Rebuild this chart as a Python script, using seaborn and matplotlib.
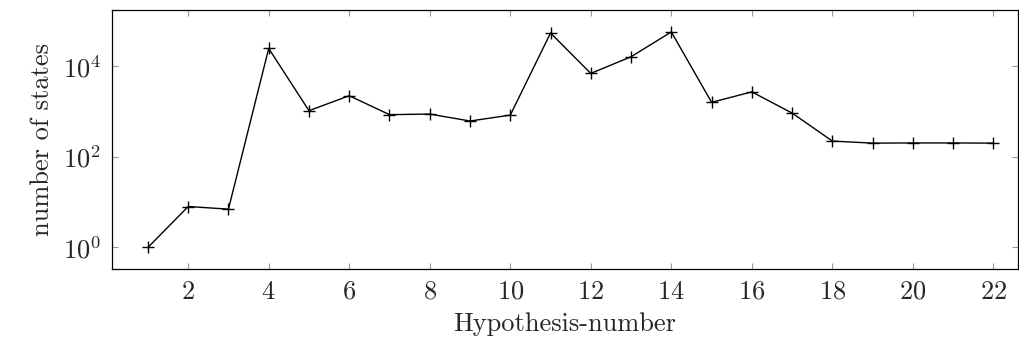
import matplotlib.pyplot as plt
import pandas as pd
import seaborn as sns

# hypothesis numbers and the number of states for each
hypothesis = list(range(1, 23))
states = [1, 8, 7, 24500, 1040, 2220, 850, 875, 615, 830, 53700,
          6900, 16100, 56700, 1590, 2700, 920, 222, 200, 202, 202, 200]

df = pd.DataFrame({"hypothesis": hypothesis, "states": states})

sns.set_style("ticks")
plt.rcParams["font.family"] = "serif"
plt.rcParams["font.serif"] = ["cmr10", "DejaVu Serif"]
plt.rcParams["mathtext.fontset"] = "cm"
plt.rcParams["axes.formatter.use_mathtext"] = True

fig = plt.figure(figsize=(10.19, 3.45), dpi=100)
ax = fig.add_axes([0.110, 0.221, 0.889, 0.749])

sns.lineplot(data=df, x="hypothesis", y="states", ax=ax, color="black",
             linewidth=1.0, marker="+", markersize=8.5, markeredgewidth=1.0,
             markeredgecolor="black")

ax.set_yscale("log")
ax.set_ylim(10 ** -0.47, 10 ** 5.23)
ax.set_xlim(0.11, 22.61)
ax.set_xticks(range(2, 23, 2))
ax.set_yticks([1, 100, 10000])
ax.yaxis.set_minor_locator(plt.NullLocator())

ax.tick_params(direction="in", length=4, width=0.8, color="#999999",
               top=True, right=True, labelsize=19, pad=8)
for side in ax.spines.values():
    side.set_linewidth(0.9)
    side.set_color("black")

ax.set_xlabel("Hypothesis-number", fontsize=19, labelpad=6)
ax.set_ylabel("number of states", fontsize=19, labelpad=6)

fig.savefig("out.png", dpi=100)
